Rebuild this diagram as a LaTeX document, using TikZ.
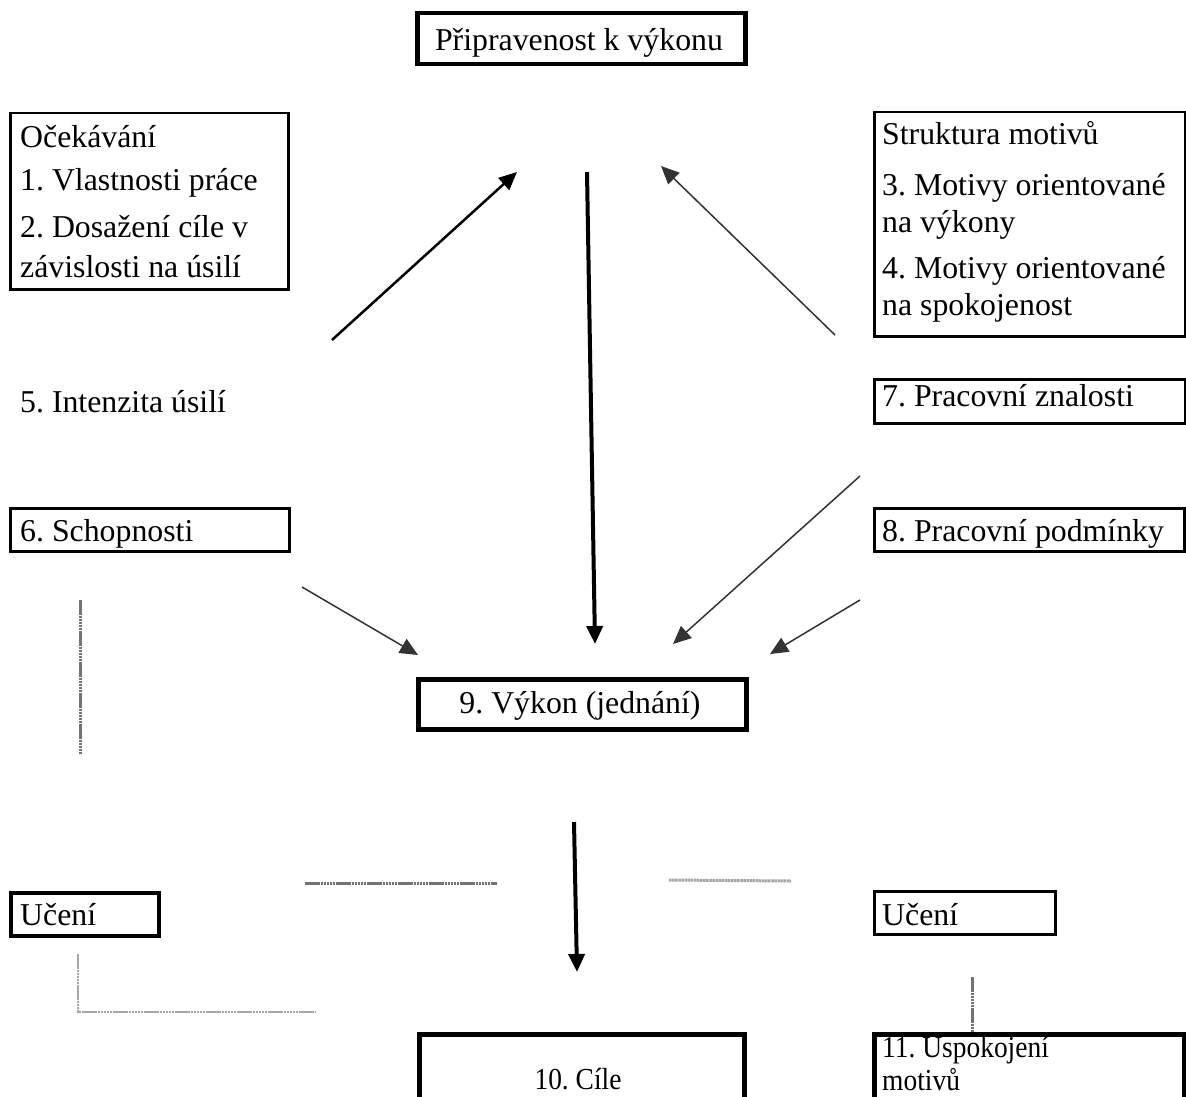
\documentclass[tikz,border=0pt]{standalone}
\usepackage{fontspec}
\setmainfont{Liberation Serif}
\usetikzlibrary{arrows.meta}
\frenchspacing
\begin{document}
\begin{tikzpicture}[x=1pt,y=-1pt,
  every node/.style={font=\fontsize{31.8}{38}\selectfont},
  txt/.style={anchor=base west,inner sep=0pt},
  ctxt/.style={anchor=base,inner sep=0pt},
  condensed/.style={font=\fontsize{30.5}{36}\selectfont\addfontfeatures{FakeStretch=0.9}},
  box/.style={draw=black,line width=2.5pt,anchor=north west,inner sep=0pt},
  thickbox/.style={box,line width=4.5pt},
  arr/.style={-{Triangle[length=18pt,width=16pt]},line width=1.5pt,draw=black!80},
  thickarr/.style={arr,line width=4pt,draw=black},
  greyline/.style={draw=black!55,line width=3pt,dash pattern=on 2.5pt off 0.6pt},
  lightline/.style={draw=black!35,line width=3pt,dash pattern=on 2.5pt off 0.6pt}]
\useasboundingbox (0,0) rectangle (1186,1097);
\fill[white] (0,0) rectangle (1186,1097);

% boxes
\node[thickbox,minimum width=328pt,minimum height=51pt] (top) at (415,11) {};
\node[box,minimum width=278pt,minimum height=176pt] (exp) at (9,112) {};
\node[box,minimum width=311pt,minimum height=224pt] (mot) at (873,111) {};
\node[box,minimum width=311pt,minimum height=44pt] (know) at (873,378) {};
\node[box,minimum width=279pt,minimum height=43pt] (abil) at (9,507) {};
\node[box,minimum width=310pt,minimum height=43pt] (cond) at (873,507) {};
\node[thickbox,minimum width=328pt,minimum height=50pt] (perf) at (416,677) {};
\node[box,line width=3.5pt,minimum width=148pt,minimum height=43pt] (learnL) at (9,891) {};
\node[box,minimum width=181pt,minimum height=43pt] (learnR) at (873,890) {};
\node[thickbox,minimum width=325pt,minimum height=90pt] (goals) at (417,1032) {};
\node[thickbox,minimum width=310pt,minimum height=90pt] (satis) at (872,1032) {};

% texts
\node[ctxt] (tTop) at (579,51) {Připravenost k výkonu};
\node[txt] (tExp0) at (20,147) {Očekávání};
\node[txt] (tExp1) at (20,190) {1. Vlastnosti práce};
\node[txt] (tExp2) at (20,237) {2. Dosažení cíle v};
\node[txt] (tExp3) at (20,277) {závislosti na úsilí};
\node[txt] (tMot0) at (882,145) {Struktura motivů};
\node[txt] (tMot1) at (882,195) {3. Motivy orientované};
\node[txt] (tMot2) at (882,232) {na výkony};
\node[txt] (tMot3) at (882,278) {4. Motivy orientované};
\node[txt] (tMot4) at (882,315) {na spokojenost};
\node[txt] (tKnow) at (882,406) {7. Pracovní znalosti};
\node[txt] (tEff) at (20,412) {5. Intenzita úsilí};
\node[txt] (tAbil) at (20,541) {6. Schopnosti};
\node[txt] (tCond) at (882,541) {8. Pracovní podmínky};
\node[ctxt] (tPerf) at (580,713) {9. Výkon (jednání)};
\node[txt] (tLearnL) at (20,925) {Učení};
\node[txt] (tLearnR) at (882,925) {Učení};
\node[ctxt,condensed] (tGoals) at (578,1089) {10. Cíle};
\node[txt,condensed] (tSat1) at (882,1057) {11. Uspokojení};
\node[txt,condensed] (tSat2) at (882,1090) {motivů};

% arrow end points
\coordinate (a1s) at (332,340);  \coordinate (a1e) at (517,172);
\coordinate (a2s) at (587,172);  \coordinate (a2e) at (595,644);
\coordinate (a3s) at (835,335);  \coordinate (a3e) at (661,166);
\coordinate (a4s) at (302,587);  \coordinate (a4e) at (418,655);
\coordinate (a5s) at (860,476);  \coordinate (a5e) at (673,644);
\coordinate (a6s) at (860,600);  \coordinate (a6e) at (770,654);
\coordinate (a7s) at (574,822);  \coordinate (a7e) at (577,972);

\draw[arr,line width=2.5pt,draw=black] (a1s) -- (a1e);
\draw[thickarr] (a2s) -- (a2e);
\draw[arr] (a3s) -- (a3e);
\draw[arr] (a4s) -- (a4e);
\draw[arr] (a5s) -- (a5e);
\draw[arr] (a6s) -- (a6e);
\draw[thickarr] (a7s) -- (a7e);

% grey lines
\coordinate (g1a) at (80,600);  \coordinate (g1b) at (80,755);
\coordinate (g2a) at (305,883); \coordinate (g2b) at (497,883);
\coordinate (g3a) at (669,880); \coordinate (g3b) at (791,881);
\coordinate (g4a) at (78,954);  \coordinate (g4b) at (78,1012); \coordinate (g4c) at (315,1012);
\coordinate (g5a) at (972,977);
\draw[greyline] (g1a) -- (g1b);
\draw[greyline] (g2a) -- (g2b);
\draw[lightline] (g3a) -- (g3b);
\draw[lightline,line width=2.5pt] (g4a) -- (g4b) -- (g4c);
\draw[greyline] (g5a) -- (satis.north west -| g5a);
\end{tikzpicture}
\end{document}
